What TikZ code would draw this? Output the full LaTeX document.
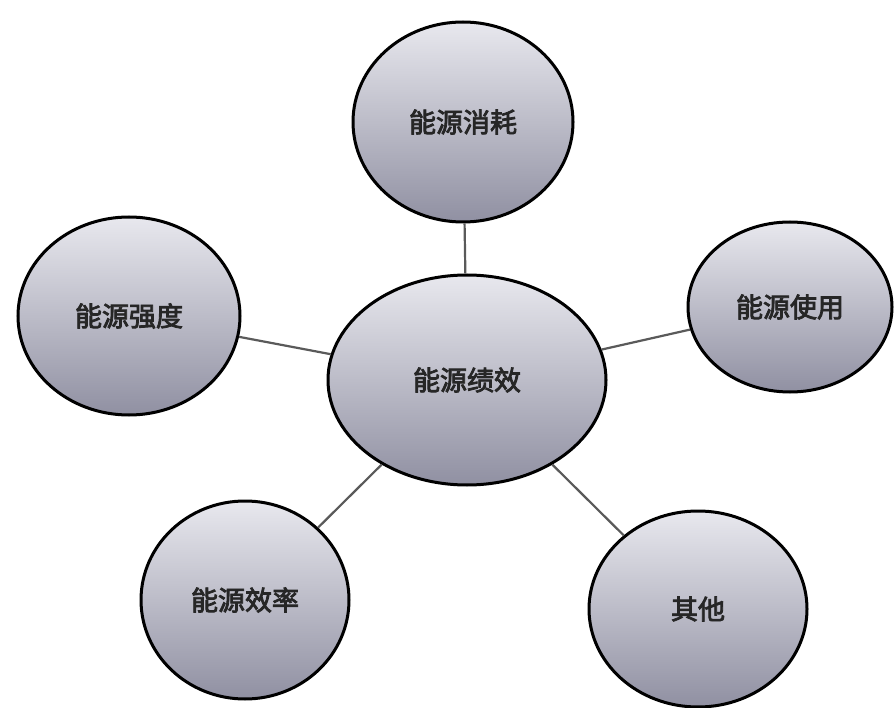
\documentclass[tikz,border=0pt]{standalone}
\usepackage{fontspec}
\newfontfamily\cjk[FakeBold=3]{Noto Sans CJK SC}
\usetikzlibrary{shapes.geometric}
\definecolor{bubbletop}{HTML}{E8E8EE}
\definecolor{bubblebot}{HTML}{9090A2}
\definecolor{linkgray}{HTML}{5A5A5A}
\tikzset{
  bubble/.style={ellipse, draw=black, line width=3pt, inner sep=0pt,
    top color=bubbletop, bottom color=bubblebot,
    font=\cjk\fontsize{27}{27}\selectfont, text=black!85},
  link/.style={draw=linkgray, line width=2.2pt}
}
\begin{document}
\begin{tikzpicture}[x=1pt,y=-1pt]
        \useasboundingbox[fill=white] (0,0) rectangle (894,708);
        \node[bubble, minimum width=278, minimum height=210] (perf) at (467,380) {能源绩效};
        \node[bubble, minimum width=220, minimum height=200] (cons) at (463,122) {能源消耗};
        \node[bubble, minimum width=222, minimum height=198] (inten) at (129,316) {能源强度};
        \node[bubble, minimum width=204, minimum height=170] (use) at (790,307) {能源使用};
        \node[bubble, minimum width=208, minimum height=198] (effi) at (245,600) {能源效率};
        \node[bubble, minimum width=218, minimum height=196] (other) at (698,609) {其他};
        \draw[link] (perf) -- (cons);
        \draw[link] (perf) -- (inten);
        \draw[link] (perf) -- (use);
        \draw[link] (perf) -- (effi);
        \draw[link] (perf) -- (other);
    \end{tikzpicture}
\end{document}
